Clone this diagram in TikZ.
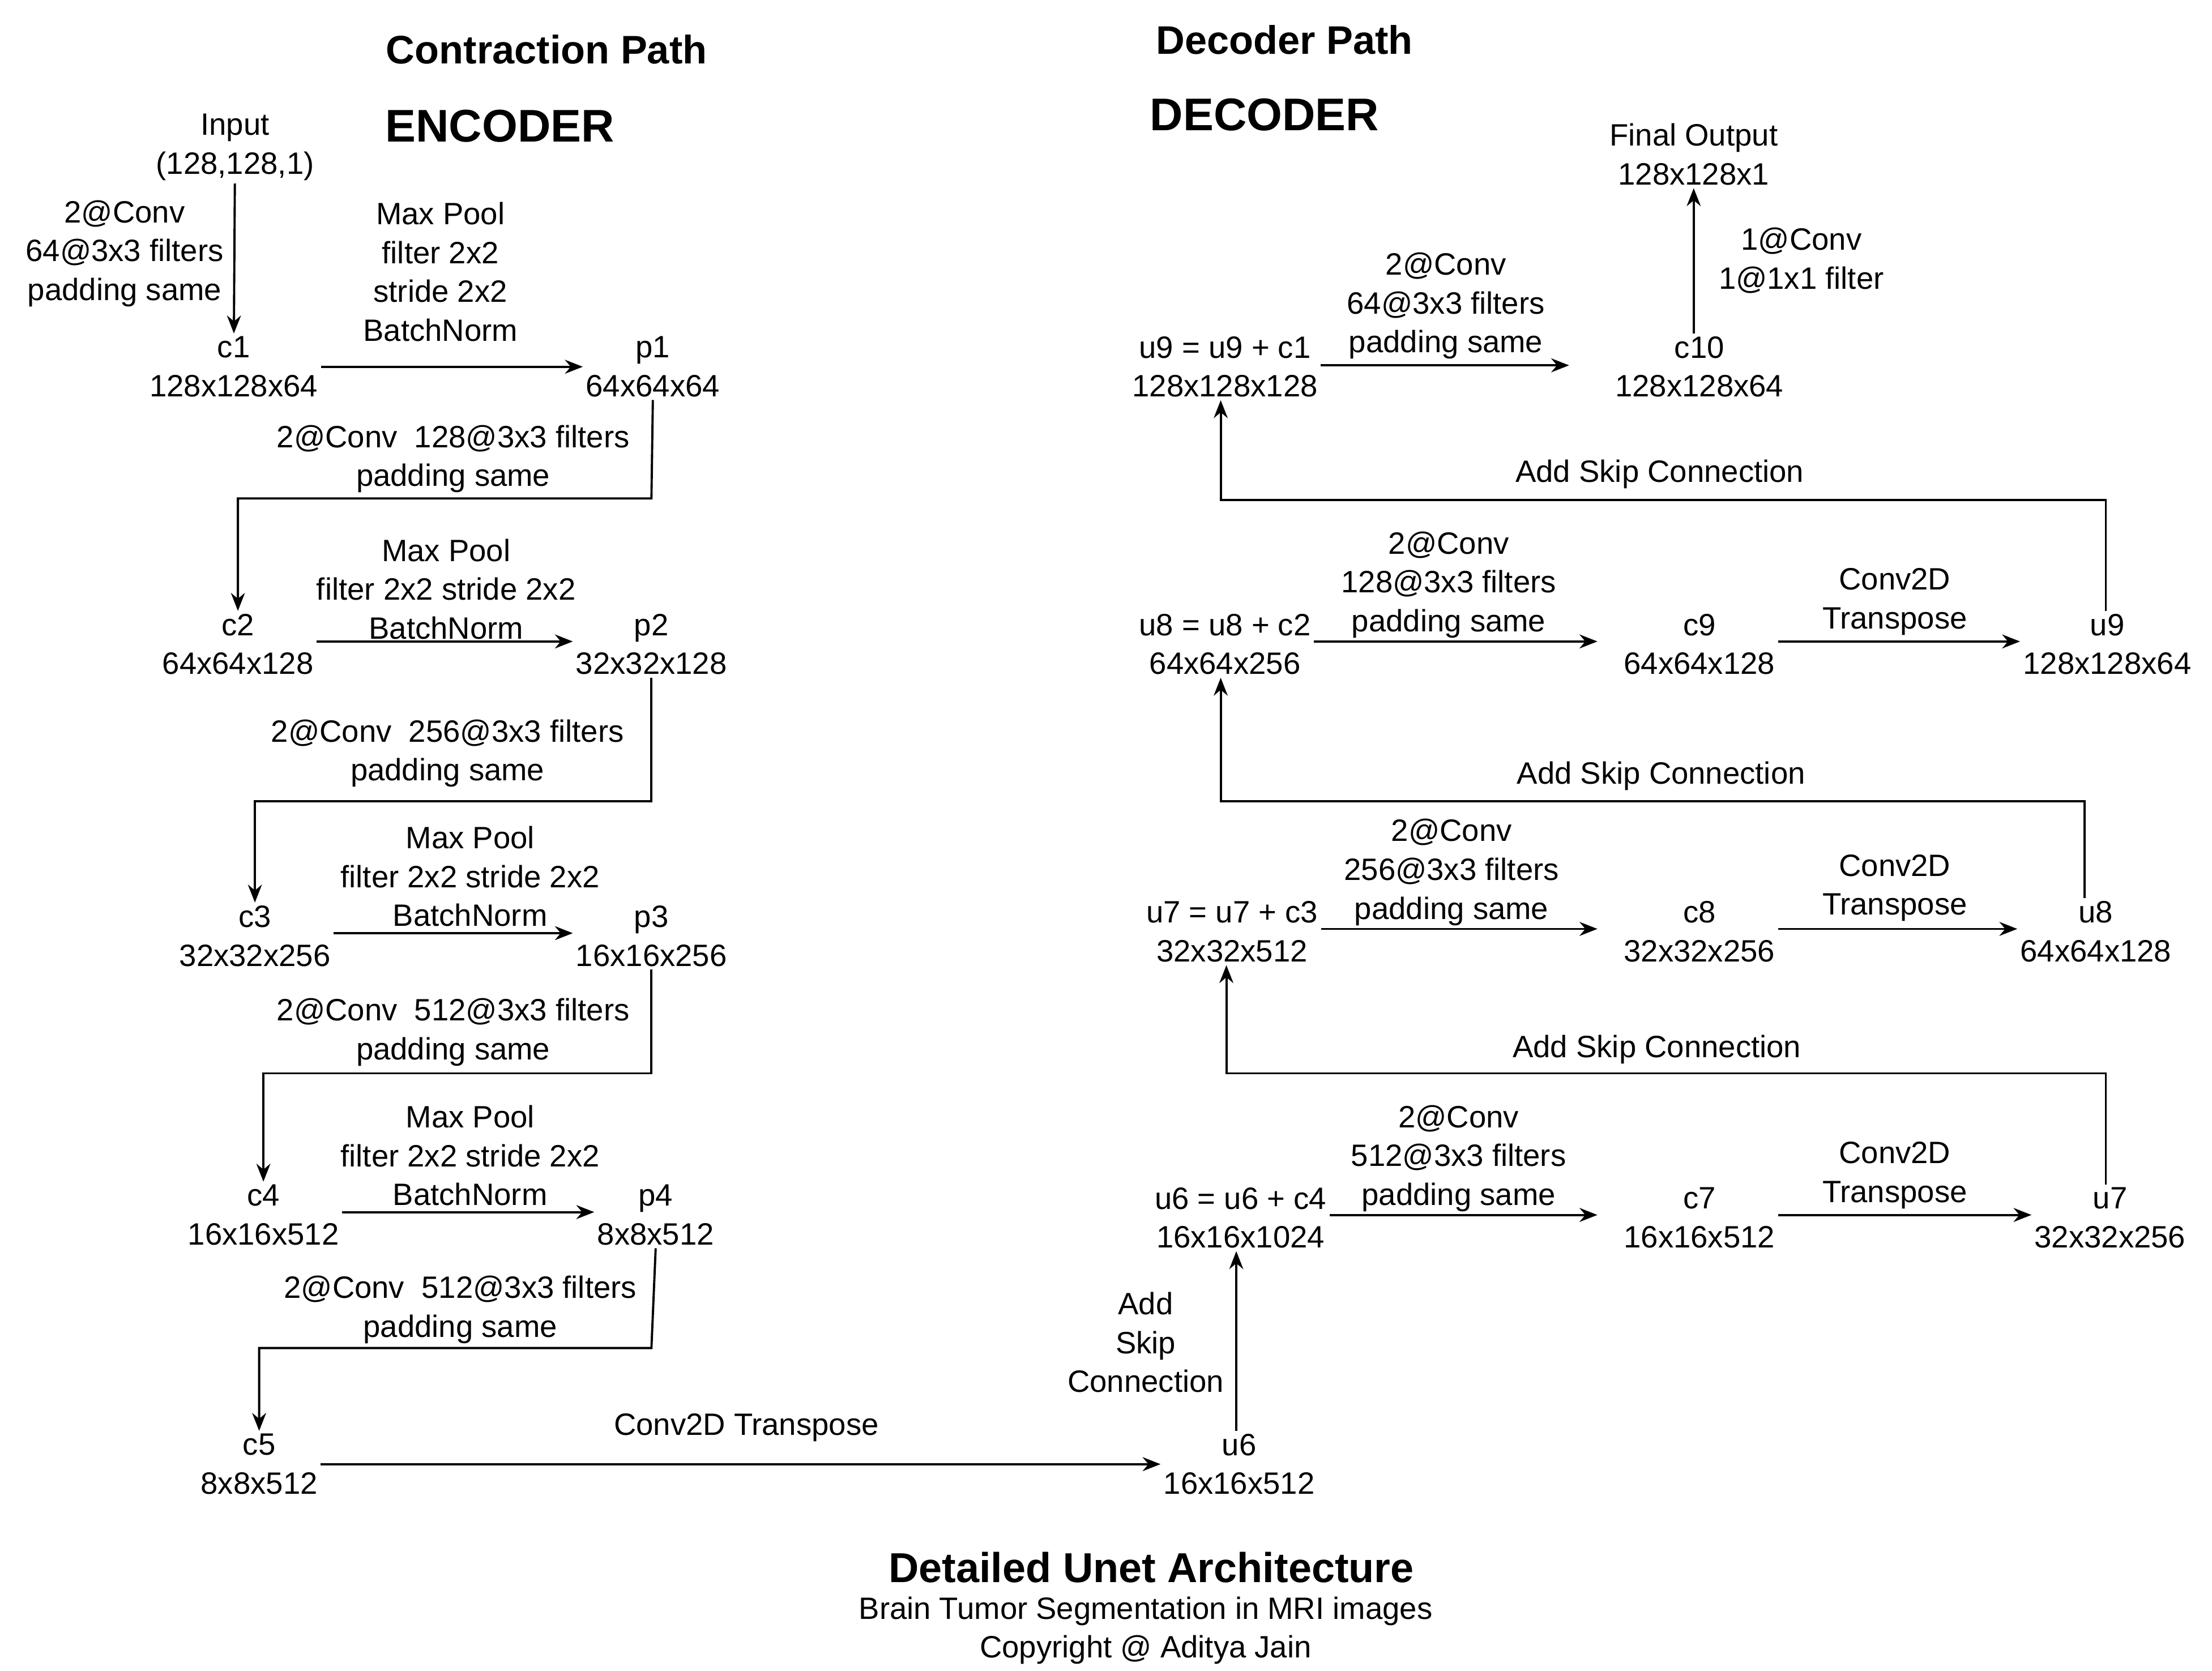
\documentclass[tikz,border=0pt]{standalone}
\usepackage{fontspec}
\setmainfont{Liberation Sans}
\usetikzlibrary{arrows, arrows.meta}
\usetikzlibrary{calc}

\begin{document}
\begin{tikzpicture}[x=0.025cm, y=-0.025cm, >={Stealth[length=9pt,width=7pt]},
    every node/.style={font=\fontsize{15.5}{19.5}\selectfont, align=center, inner sep=1pt},
    lay/.style={},
    note/.style={},
    head/.style={font=\fontsize{20}{24}\selectfont\bfseries},
    line width=1.1pt]
      \useasboundingbox (0,0) rectangle (1562,1180);

      % headings
      \node[head] (hc) at (386,35) {Contraction Path};
      \node[head, font=\fontsize{23}{27}\selectfont\bfseries] (he) at (353,89) {ENCODER};
      \node[head] (hd) at (907,28) {Decoder Path};
      \node[head, font=\fontsize{23}{27}\selectfont\bfseries] (hde) at (893,81) {DECODER};

      % encoder
      \node[lay] (in) at (166,104) {Input\\(128,128,1)};
      \node[lay] (c1) at (165,259) {c1\\128x128x64};
      \node[lay] (p1) at (461,259) {p1\\64x64x64};
      \node[lay] (c2) at (168,455) {c2\\64x64x128};
      \node[lay] (p2) at (460,455) {p2\\32x32x128};
      \node[lay] (c3) at (180,661) {c3\\32x32x256};
      \node[lay] (p3) at (460,661) {p3\\16x16x256};
      \node[lay] (c4) at (186,858) {c4\\16x16x512};
      \node[lay] (p4) at (463,858) {p4\\8x8x512};
      \node[lay] (c5) at (183,1034) {c5\\8x8x512};

      \draw[->] (in) -- (c1);
      \draw[->] (c1.east |- 0,259) -- (p1.west |- 0,259);
      \draw[->] (c2.east |- 0,453) -- (p2.west |- 0,453);
      \draw[->] (c3.east |- 0,659) -- (p3.west |- 0,659);
      \draw[->] (c4.east |- 0,856) -- (p4.west |- 0,856);
      \draw[->] (p1.south) -- (460,352) -| (c2.north);
      \draw[->] (p2.south) -- (460,566) -| (c3.north);
      \draw[->] (p3.south) -- (460,758) -| (c4.north);
      \draw[->] (p4.south) -- (460,952) -| (c5.north);

      \node[note] (l0) at (88,179) {2@Conv\\64@3x3 filters\\padding same};
      \node[note] (l1) at (311,192) {Max Pool\\filter 2x2\\stride 2x2\\BatchNorm};
      \node[note] (l2) at (320,324) {2@Conv\ \ 128@3x3 filters\\padding same};
      \node[note] (l3) at (315,416) {Max Pool\\filter 2x2 stride 2x2\\BatchNorm};
      \node[note] (l4) at (316,532) {2@Conv\ \ 256@3x3 filters\\padding same};
      \node[note] (l5) at (332,619) {Max Pool\\filter 2x2 stride 2x2\\BatchNorm};
      \node[note] (l6) at (320,729) {2@Conv\ \ 512@3x3 filters\\padding same};
      \node[note] (l7) at (332,816) {Max Pool\\filter 2x2 stride 2x2\\BatchNorm};
      \node[note] (l8) at (325,925) {2@Conv\ \ 512@3x3 filters\\padding same};

      % bottleneck
      \node[lay] (u6) at (875,1034) {u6\\16x16x512};
      \draw[->] (c5.east |- 0,1034) -- (u6.west |- 0,1034);
      \node[note] (l9) at (527,1008) {Conv2D Transpose};

      % decoder
      \node[lay] (s6) at (876,860) {u6 = u6 + c4\\16x16x1024};
      \node[lay] (c7) at (1200,860) {c7\\16x16x512};
      \node[lay] (u7) at (1490,860) {u7\\32x32x256};
      \node[lay] (s7) at (870,658) {u7 = u7 + c3\\32x32x512};
      \node[lay] (c8) at (1200,658) {c8\\32x32x256};
      \node[lay] (u8) at (1480,658) {u8\\64x64x128};
      \node[lay] (s8) at (865,455) {u8 = u8 + c2\\64x64x256};
      \node[lay] (c9) at (1200,455) {c9\\64x64x128};
      \node[lay] (u9) at (1488,455) {u9\\128x128x64};
      \node[lay] (s9) at (865,259) {u9 = u9 + c1\\128x128x128};
      \node[lay] (c10) at (1200,259) {c10\\128x128x64};
      \node[lay] (out) at (1196,109) {Final Output\\128x128x1};

      \draw[->] (u6.north -| 873,0) -- (s6.south -| 873,0);
      \draw[->] (s6.east |- 0,858) -- (1128,858);
      \draw[->] (c7.east |- 0,858) -- (u7.west |- 0,858);
      \draw[->] (u7.north -| 1487,0) -- (1487,758) -| (s7.south -| 866,0);
      \draw[->] (s7.east |- 0,656) -- (1128,656);
      \draw[->] (c8.east |- 0,656) -- (u8.west |- 0,656);
      \draw[->] (u8.north -| 1472,0) -- (1472,566) -| (s8.south -| 862,0);
      \draw[->] (s8.east |- 0,453) -- (1128,453);
      \draw[->] (c9.east |- 0,453) -- (u9.west |- 0,453);
      \draw[->] (u9.north -| 1487,0) -- (1487,353) -| (s9.south -| 862,0);
      \draw[->] (s9.east |- 0,258) -- (1108,258);
      \draw[->] (c10.north -| 1196,0) -- (out.south -| 1196,0);

      \node[note] (m0) at (809,948) {Add\\Skip\\Connection};
      \node[note] (m1) at (1030,818) {2@Conv\\512@3x3 filters\\padding same};
      \node[note] (m2) at (1338,830) {Conv2D\\Transpose};
      \node[note] (m3) at (1170,741) {Add Skip Connection};
      \node[note] (m4) at (1025,616) {2@Conv\\256@3x3 filters\\padding same};
      \node[note] (m5) at (1338,627) {Conv2D\\Transpose};
      \node[note] (m6) at (1173,548) {Add Skip Connection};
      \node[note] (m7) at (1023,413) {2@Conv\\128@3x3 filters\\padding same};
      \node[note] (m8) at (1338,425) {Conv2D\\Transpose};
      \node[note] (m9) at (1172,335) {Add Skip Connection};
      \node[note] (m10) at (1021,216) {2@Conv\\64@3x3 filters\\padding same};
      \node[note] (m11) at (1272,184) {1@Conv\\1@1x1 filter};

      % caption
      \node[head, font=\fontsize{21}{25}\selectfont\bfseries] (t0) at (813,1107) {Detailed Unet Architecture};
      \node[note] (t1) at (809,1138) {Brain Tumor Segmentation in MRI images};
      \node[note] (t2) at (809,1165) {Copyright @ Aditya Jain};
\end{tikzpicture}
\end{document}
